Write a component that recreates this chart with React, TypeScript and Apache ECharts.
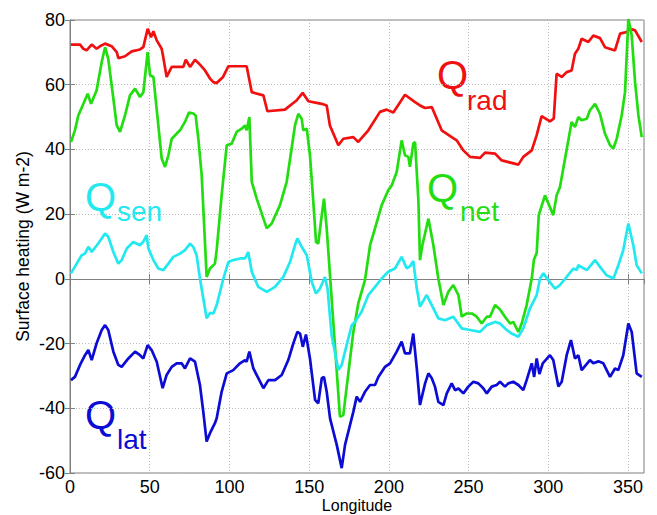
import React, { useEffect, useRef } from "react";
import * as echarts from "echarts";

// Longitude (deg) and surface heating (W m-2)
const radLon = [0.6, 6.3, 8.4, 10.4, 13.6, 16.7, 18.8, 22, 26.1, 29.3, 30.3, 34.5, 38.7, 43.9, 46, 48.7, 50.8, 52.3, 54.4, 57.5, 58.5, 60.6, 63.8, 71.1, 72.6, 75.3, 78.4, 81.5, 84.7, 87.8, 89.9, 92, 96, 99.3, 110.8, 114, 121.3, 123.8, 134.8, 142.2, 145.9, 149.5, 154.7, 157.8, 161, 163, 168.3, 171.4, 177.7, 180.8, 187.1, 194.4, 198.6, 202.8, 210.1, 216.4, 219.5, 222.7, 226.9, 233.1, 239.4, 242.5, 246.7, 250.9, 257.2, 260.3, 266.6, 270.8, 281.2, 284.3, 289.6, 292.7, 295.8, 301, 303.4, 305.2, 308.4, 311.5, 314.6, 316.7, 318.8, 320.9, 325.1, 328.2, 332.4, 335.5, 341.8, 345, 349.2, 351.2, 354.4, 358.6];
const radVal = [72.4, 72.4, 71.1, 70.6, 72.4, 71.1, 71.9, 72.7, 71.9, 70.1, 68.2, 68.8, 70.3, 70.9, 71.6, 77.3, 74.7, 76.5, 73.7, 71.1, 68.5, 62.4, 65.5, 65.5, 67.7, 65.5, 67.7, 66.2, 64.4, 61.9, 60.8, 60.5, 62.4, 65.7, 65.7, 57.7, 56.7, 51.8, 52.3, 55.2, 57.5, 54.9, 54.4, 54.1, 53.6, 47.4, 41.3, 43.3, 43.8, 42.3, 45.9, 51.6, 52.3, 51.4, 56.9, 54.6, 53.6, 52.8, 53.1, 45.9, 43.8, 42.8, 39.7, 37.7, 37.4, 39, 38.7, 36.6, 35.3, 37.7, 39.7, 44.4, 50.3, 48.7, 49.5, 63.4, 62.4, 63.9, 64.4, 69.6, 71.1, 74.2, 73.2, 75.2, 74.4, 71.6, 70.6, 75.8, 76.3, 77.3, 76.8, 73.2];

const netLon = [0.6, 3.1, 5.2, 8.4, 11.1, 13.2, 16.7, 19.9, 22, 24, 27.2, 29.3, 31.4, 34.5, 37.6, 40.8, 43.9, 46, 48.7, 50.2, 52.3, 55.4, 57.5, 59.6, 61.7, 63.8, 66.9, 69, 72.1, 74.6, 77.3, 78.8, 80.5, 82.6, 85.7, 87.8, 90.9, 92, 95.1, 98.3, 101.4, 104.5, 107.7, 109.8, 110.8, 112.5, 114, 117.1, 123.4, 126.5, 131.7, 135.9, 139, 141.1, 143.2, 145.3, 146.3, 148.5, 150.5, 152.6, 154.3, 155.7, 157.9, 159.3, 161, 169.3, 171.4, 177.7, 180.8, 185, 188.2, 191.3, 195.5, 199.6, 201.8, 204.9, 208, 210.1, 212.2, 213.2, 215.3, 216.4, 218.5, 219.5, 221, 224.8, 227.9, 231, 234.2, 237.3, 240.4, 243.6, 245.7, 248.8, 252, 255.1, 258.2, 261.4, 263.4, 266.6, 269.7, 272.8, 276, 278, 281.2, 283.3, 286.4, 289.6, 291, 292.7, 294, 297.9, 303.1, 305.2, 307.3, 310.5, 314.6, 316.7, 318.8, 320.9, 324.1, 326.1, 329.3, 332.4, 335.5, 338.7, 340.8, 342.9, 346, 348.1, 350.2, 352.3, 354.4, 356.5, 358.6];
const netVal = [42.3, 45.9, 50.5, 54.1, 57.2, 54.1, 58.3, 67, 71.6, 68, 55.7, 47.4, 45.4, 50.5, 56.7, 58.8, 56.2, 57.7, 70.1, 62.9, 62.4, 47.4, 37.2, 34.6, 38.2, 43.3, 44.9, 45.9, 48.5, 51.4, 51.1, 50.5, 43.3, 32, 0.6, 3.2, 4.7, 8.9, 25.8, 41.3, 41.8, 45.4, 46.4, 47.4, 45.9, 50, 30, 24.8, 15.6, 17.1, 22.8, 30, 40.3, 47.4, 51, 49.5, 45.9, 46.4, 38.2, 23.8, 11.4, 10.9, 19.7, 24.8, 15.6, -42.6, -42.1, -16.4, -7.6, -0.4, 10.4, 15.6, 22.8, 27.4, 28.9, 33, 42.8, 38.2, 37.7, 34.6, 41.8, 42.3, 24.3, 5.8, 10.4, 18.6, 10.4, 0.1, -8.1, -4, -1.9, -5, -11.7, -10.7, -10.7, -11.7, -13.8, -11.7, -11.7, -8.1, -9.5, -11.7, -13.8, -13.3, -16.4, -13.8, -8.1, 0.1, 6, 8, 19.7, 25.8, 19.7, 25.8, 28.4, 37.2, 48.5, 46.9, 50, 49, 49.5, 52.1, 54.1, 51, 44.9, 41.3, 40.3, 43.3, 50.5, 57.7, 80.4, 75.2, 60.8, 50.5, 43.8];

const senLon = [0.6, 4.2, 7.3, 9.4, 11.5, 13.6, 17.8, 22, 24, 27.2, 30.3, 32.4, 35.6, 39.7, 43.9, 46, 48.1, 49.1, 52.3, 55.4, 58.5, 61.7, 64.8, 69, 72.1, 75.3, 77.3, 79.4, 81.5, 83.6, 85.7, 87.8, 89.9, 92, 96.2, 99.3, 102.4, 106.6, 109.8, 111.8, 114, 118.1, 123.4, 128.6, 133.8, 138, 141.1, 142.6, 145.3, 148.5, 151.6, 154.3, 156.8, 159.9, 161.5, 164.1, 168.3, 170.4, 173.5, 176.7, 178.7, 182.9, 187.1, 191.3, 195.5, 199.6, 203.8, 208, 211.2, 213.3, 215.3, 217.5, 219.5, 223.7, 226.9, 231, 235.2, 240.4, 245.7, 250.9, 257.2, 261.4, 266.6, 269.7, 273.9, 277, 281.2, 284.3, 288.5, 292.7, 294.8, 296.9, 300, 304.2, 307.3, 311.5, 315.7, 317.8, 318.8, 324.1, 329.3, 332.4, 336.6, 340.8, 343.9, 347, 350.2, 353.3, 355.4, 358.6];
const senVal = [1.7, 4.7, 7.3, 7.8, 9.9, 8.3, 11, 14, 13, 8.3, 4.7, 5.8, 9.4, 11.4, 10.4, 11.5, 13.5, 9.5, 5.8, 3.2, 2.7, 4.7, 6.8, 7.8, 8.9, 10.9, 9.9, 7.3, 0.1, -6.1, -12.2, -10.5, -10.7, -8.1, 0.1, 5.2, 5.8, 6.3, 6.3, 8.3, 2.2, -2.5, -4, -2.5, 0.6, 5.2, 10.4, 12.5, 9.9, 7.3, -0.9, -4.5, -3, 0.6, -3, -17.4, -28.2, -26.6, -20.5, -14.3, -13.3, -10.2, -5, -2.5, 0.1, 2.2, 3.2, 6.8, 3.2, 3.9, 5.5, -3, -8.6, -5, -8.1, -12.2, -12.8, -11.7, -15.3, -15.8, -16.4, -14.3, -13.3, -13.8, -15.8, -16.9, -17.9, -15.3, -9.1, -5, 0.1, 1.7, -0.4, -3, -1.9, 0.6, 3.2, 2.7, 4.2, 2.7, 5.8, 3.7, 1.1, 0.1, 4.2, 8.9, 17.1, 10.4, 4.2, 1.7];

const latLon = [0.6, 3.1, 6.3, 9.4, 11.5, 13.6, 16.7, 19.9, 22, 24, 27.2, 30.3, 32.4, 36.6, 40.8, 43.9, 46, 48.7, 51.2, 54.4, 58.1, 60.6, 63.8, 66.9, 70, 72.1, 75.3, 78.4, 81.5, 83.6, 85.7, 87.8, 90.9, 92, 95.1, 98.3, 102.4, 106.6, 109.8, 110.8, 112.5, 115, 118.1, 121.3, 124.4, 128.6, 132.8, 136.9, 140.1, 142.6, 144.3, 146, 148, 150.5, 153.7, 155.7, 157.9, 159.3, 161, 163.1, 167.3, 170.4, 172.5, 175.6, 177.7, 179.8, 181.9, 185, 188.2, 191.3, 193.4, 197.6, 200.7, 204.9, 208, 210.1, 213.2, 215.3, 217.5, 219.5, 222.7, 224.8, 226.9, 228.9, 231, 234.2, 236.3, 239.4, 241.5, 243.6, 246.7, 249.8, 253, 256.1, 259.2, 261.4, 264.5, 267.6, 269.7, 272.8, 274.9, 278, 281.2, 284.3, 286.4, 289.6, 291.1, 292.7, 294.4, 296.5, 301, 303.1, 306.3, 308.4, 311.5, 314.2, 316.7, 318.8, 320.9, 326.1, 328.2, 331.4, 334.5, 338.7, 341.8, 343.9, 347, 350.2, 352.3, 355.4, 358.6];
const latVal = [-31.3, -30.3, -26.6, -23.6, -22, -25.1, -19.9, -15.8, -14.3, -15.8, -22.5, -26.6, -27.2, -24.6, -22.5, -23.6, -24.6, -20.5, -22, -25.6, -33.8, -29.7, -27.2, -26.1, -26.1, -27.7, -24.6, -25.6, -32.8, -41.1, -50.3, -47.7, -44.6, -43.1, -34.9, -29.2, -28.2, -26.1, -25.1, -25.6, -22.5, -27.7, -30.7, -33.8, -31.3, -31.3, -29.7, -25.1, -19.9, -16.4, -16.9, -21, -17.2, -24.6, -37.4, -38.5, -30.7, -30.3, -34.9, -43.1, -51.3, -58.5, -51.3, -45.2, -41.1, -36.4, -38, -34.9, -32.8, -32.8, -30.3, -27.2, -26.1, -22.5, -19.4, -23, -23, -16.9, -27.7, -39, -32.3, -29.2, -30.7, -33.3, -38, -39, -35.4, -32.3, -34.4, -33.9, -35.4, -33.3, -31.8, -32.3, -33.8, -35.4, -33.3, -32.8, -31.8, -33.3, -32.3, -31.8, -32.8, -34.4, -31.3, -26.1, -30.3, -24.6, -29.4, -26.1, -23.6, -25.1, -33.3, -31.8, -23.6, -18.9, -24.6, -23.6, -28.2, -25.1, -26.1, -25.5, -26.1, -30.3, -27.7, -28.2, -23.6, -13.8, -16.4, -29.2, -30.3];

const xTickMin = 0;
const xTickMax = 360;
const xTickStep = 50;
const yTickMin = -60;
const yTickMax = 80;
const yTickStep = 20;

const FONT = "'Liberation Sans', Arial, sans-serif";
const RED = "#f01010";
const GREEN = "#22dd10";
const CYAN = "#22e8f0";
const BLUE = "#0c0cd4";
const AXIS = "#808080";

const zip = (a: number[], b: number[]) => a.map((x, i) => [x, b[i]]);

export default function App() {
  const ref = useRef<HTMLDivElement>(null);
  useEffect(() => {
    document.body.style.margin = "0";
    const chart = echarts.init(ref.current!, null, { renderer: "svg" });
    const lineSeries = (name: string, lon: number[], val: number[], color: string) => ({
      name,
      type: "line",
      data: zip(lon, val),
      showSymbol: false,
      symbol: "none",
      lineStyle: { color, width: 2.7 },
      itemStyle: { color },
      xAxisIndex: 0,
      yAxisIndex: 0,
    });
    const label = (main: string, sub: string, color: string, x: number, y: number, sx: number, sy: number) => [
      { type: "text", x, y, style: { text: main, fill: color, fontSize: 40, fontFamily: FONT, verticalAlign: "middle", align: "left" } },
      { type: "text", x: sx, y: sy, style: { text: sub, fill: color, fontSize: 28, fontFamily: FONT, verticalAlign: "middle", align: "left" } },
    ];
    chart.setOption({
      animation: false,
      backgroundColor: "#ffffff",
      grid: {
        left: 70, right: 13, top: 20, bottom: 42,
        containLabel: false, outerBoundsMode: "none",
        show: true, borderColor: AXIS, borderWidth: 1, backgroundColor: "transparent",
      },
      xAxis: [
        {
          type: "value", min: xTickMin, max: xTickMax, interval: xTickStep, position: "bottom",
          axisLine: { show: true, lineStyle: { color: AXIS, width: 1 } },
          axisTick: { show: true, inside: true, length: 5, lineStyle: { color: AXIS } },
          axisLabel: { color: "#000", fontSize: 18, fontFamily: FONT, margin: 5, showMaxLabel: false },
          splitLine: { show: true, lineStyle: { color: "#b8b8b8", type: [1, 2], width: 1 } },
          name: "Longitude", nameLocation: "middle", nameGap: 24, nameMoveOverlap: false,
          nameTextStyle: { color: "#000", fontSize: 16, fontFamily: FONT },
        },
        {
          type: "value", min: xTickMin, max: xTickMax, interval: xTickStep, position: "top",
          axisLine: { show: true, lineStyle: { color: AXIS } },
          axisTick: { show: true, inside: true, length: 5, lineStyle: { color: AXIS } },
          axisLabel: { show: false }, splitLine: { show: false },
        },
      ],
      yAxis: [
        {
          type: "value", min: yTickMin, max: yTickMax, interval: yTickStep, position: "left",
          axisLine: { show: true, lineStyle: { color: AXIS, width: 1 } },
          axisTick: { show: true, inside: true, length: 5, lineStyle: { color: AXIS } },
          axisLabel: { color: "#000", fontSize: 18, fontFamily: FONT, margin: 5 },
          splitLine: { show: true, lineStyle: { color: "#b8b8b8", type: [1, 2], width: 1 } },
          name: "Surface heating (W m-2)", nameLocation: "middle", nameGap: 38, nameMoveOverlap: false,
          nameTextStyle: { color: "#000", fontSize: 17.5, fontFamily: FONT },
        },
        {
          type: "value", min: yTickMin, max: yTickMax, interval: yTickStep, position: "right",
          axisLine: { show: true, lineStyle: { color: AXIS } },
          axisTick: { show: true, inside: true, length: 5, lineStyle: { color: AXIS } },
          axisLabel: { show: false }, splitLine: { show: false },
        },
      ],
      series: [
        lineSeries("Qrad", radLon, radVal, RED),
        lineSeries("Qnet", netLon, netVal, GREEN),
        lineSeries("Qsen", senLon, senVal, CYAN),
        lineSeries("Qlat", latLon, latVal, BLUE),
      ],
      graphic: [
        ...label("Q", "rad", RED, 437, 75, 467, 100),
        ...label("Q", "net", GREEN, 427, 188, 460, 211),
        ...label("Q", "sen", CYAN, 85, 197, 117, 211),
        ...label("Q", "lat", BLUE, 85, 415, 117, 439),
      ],
    });
    return () => chart.dispose();
  }, []);
  return <div ref={ref} style={{ width: 657, height: 515 }} />;
}
